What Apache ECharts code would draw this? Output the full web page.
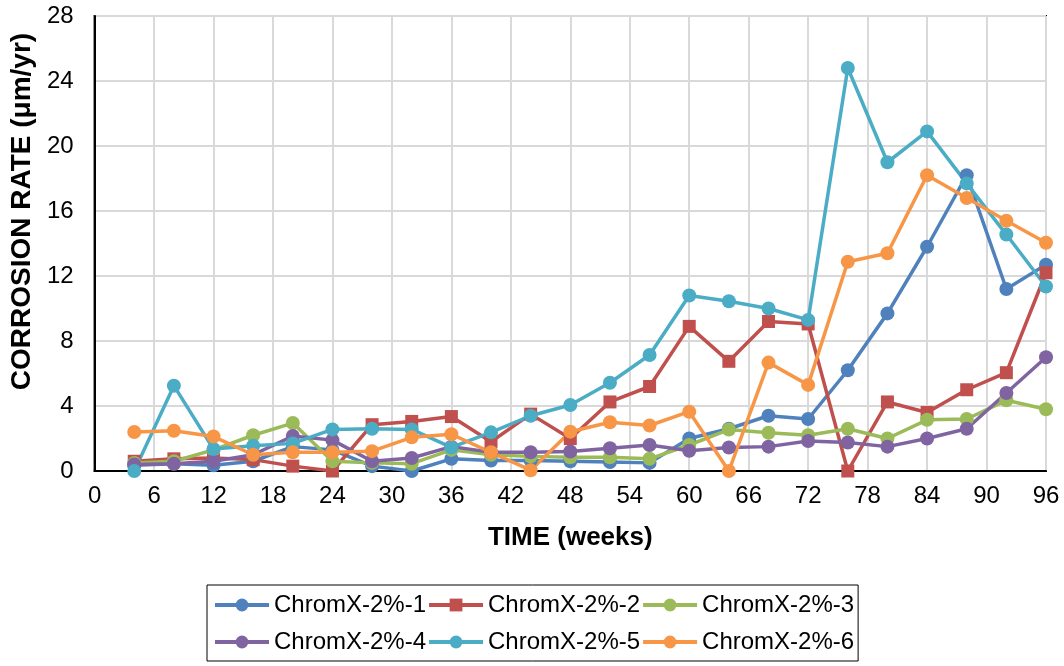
<!DOCTYPE html>
<html>
<head>
<meta charset="utf-8">
<script src="https://cdn.jsdelivr.net/npm/echarts@6/dist/echarts.min.js"></script>
<style>
html,body{margin:0;padding:0;background:#fff;}
#chart{width:1064px;height:666px;}
</style>
</head>
<body>
<div id="chart"></div>
<script>
var weeks = [4,8,12,16,20,24,28,32,36,40,44,48,52,56,60,64,68,72,76,80,84,88,92,96];
var seriesNames = ['ChromX-2%-1','ChromX-2%-2','ChromX-2%-3','ChromX-2%-4','ChromX-2%-5','ChromX-2%-6'];
var s1 = [0.35,0.45,0.35,0.6,1.5,1.3,0.3,0.0,0.75,0.65,0.65,0.6,0.55,0.5,2.0,2.6,3.4,3.2,6.2,9.7,13.8,18.2,11.2,12.7];
var s2 = [0.6,0.75,0.8,0.7,0.3,0.0,2.85,3.05,3.35,1.8,3.5,2.0,4.25,5.2,8.9,6.75,9.2,9.05,0.0,4.25,3.6,5.0,6.05,12.2];
var s3 = [0.5,0.6,1.3,2.2,2.95,0.6,0.5,0.45,1.3,1.0,0.9,0.85,0.85,0.75,1.6,2.55,2.35,2.2,2.6,2.0,3.15,3.2,4.35,3.8];
var s4 = [0.4,0.45,0.6,1.0,2.15,1.9,0.6,0.8,1.5,1.15,1.15,1.2,1.4,1.6,1.25,1.45,1.5,1.85,1.75,1.5,2.0,2.6,4.8,7.0];
var s5 = [0.0,5.25,1.35,1.55,1.7,2.56,2.6,2.56,1.45,2.38,3.4,4.06,5.43,7.14,10.8,10.45,10.0,9.3,24.8,19.0,20.9,17.7,14.55,11.35];
var s6 = [2.4,2.48,2.12,1.0,1.15,1.15,1.22,2.07,2.26,1.15,0.05,2.42,3.0,2.8,3.65,0.0,6.67,5.3,12.88,13.4,18.2,16.8,15.4,14.05];
var allValues = [s1,s2,s3,s4,s5,s6];
var colors = ['#4F81BD','#C0504D','#9BBB59','#8064A2','#4BACC6','#F79646'];
var symbols = ['circle','rect','circle','circle','circle','circle'];

var FONT = 'Liberation Sans, Arial, sans-serif';
var series = allValues.map(function(vals, i){
  return {
    name: seriesNames[i],
    type: 'line',
    clip: false,
    data: weeks.map(function(w, j){ return [w, vals[j]]; }),
    symbol: symbols[i],
    symbolSize: i === 1 ? 13 : 14,
    lineStyle: {color: colors[i], width: 3.5},
    itemStyle: {color: colors[i]},
    emphasis: {disabled: true}
  };
});

var chart = echarts.init(document.getElementById('chart'), null, {renderer:'canvas'});
chart.setOption({
  animation: false,
  color: colors,
  grid: {left: 93, right: 18, top: 16, bottom: 195, show: true, borderColor: '#000', borderWidth: 2, backgroundColor: 'transparent'},
  xAxis: {
    type: 'value', min: 0, max: 96, interval: 6,
    name: 'TIME (weeks)', nameLocation: 'middle', nameGap: 54,
    nameTextStyle: {fontFamily: FONT, fontSize: 26, fontWeight: 'bold', color: '#000'},
    axisLine: {lineStyle: {color: '#000', width: 2}},
    axisTick: {show: false},
    axisLabel: {fontFamily: FONT, fontSize: 24, color: '#000', margin: 13},
    splitLine: {show: true, lineStyle: {color: '#D9D9D9', width: 2}}
  },
  yAxis: {
    type: 'value', min: 0, max: 28, interval: 4,
    name: 'CORROSION RATE (μm/yr)', nameLocation: 'middle', nameGap: 52,
    nameTextStyle: {fontFamily: FONT, fontSize: 28, fontWeight: 'bold', color: '#000', padding: [0, 0, 0, 64]},
    axisLine: {show: true, lineStyle: {color: '#000', width: 2}},
    axisTick: {show: false},
    axisLabel: {fontFamily: FONT, fontSize: 24, color: '#000', margin: 21},
    splitLine: {show: true, lineStyle: {color: '#D9D9D9', width: 2}}
  },
  legend: {
    data: seriesNames,
    left: 207, top: 585, width: 700,
    padding: [2, 4, 1, 6],
    itemGap: 1,
    itemWidth: 54, itemHeight: 16,
    borderColor: '#000', borderWidth: 1,
    lineStyle: {width: 4},
    textStyle: {fontFamily: FONT, fontSize: 24, color: '#000', lineHeight: 36}
  },
  series: series
});
</script>
</body>
</html>
